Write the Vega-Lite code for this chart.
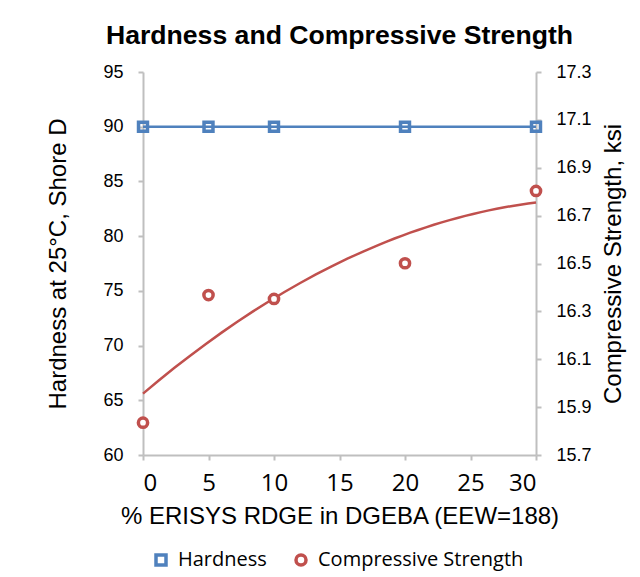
{
  "$schema": "https://vega.github.io/schema/vega-lite/v6.json",
  "width": 393,
  "height": 383,
  "autosize": {"type": "pad"},
  "padding": {"left": 46, "top": 23, "right": 5, "bottom": 5},
  "background": "white",
  "config": {
    "view": {"stroke": null},
    "axis": {
      "grid": false,
      "domainColor": "#BFBFBF",
      "domainWidth": 2,
      "tickColor": "#BFBFBF",
      "tickWidth": 2,
      "tickSize": 5,
      "labelColor": "black",
      "titleColor": "black",
      "titleFontWeight": "normal"
    }
  },
  "title": {
    "text": "Hardness and Compressive Strength",
    "font": "Liberation Sans",
    "fontSize": 26.6,
    "fontWeight": "bold",
    "color": "black",
    "anchor": "middle",
    "offset": 13
  },
  "datasets": {
    "hardness": [
      {"pct": 0, "value": 90, "series": "Hardness"},
      {"pct": 5, "value": 90, "series": "Hardness"},
      {"pct": 10, "value": 90, "series": "Hardness"},
      {"pct": 20, "value": 90, "series": "Hardness"},
      {"pct": 30, "value": 90, "series": "Hardness"}
    ],
    "strength": [
      {"pct": 0, "value": 15.835, "series": "Compressive Strength"},
      {"pct": 5, "value": 16.368, "series": "Compressive Strength"},
      {"pct": 10, "value": 16.352, "series": "Compressive Strength"},
      {"pct": 20, "value": 16.501, "series": "Compressive Strength"},
      {"pct": 30, "value": 16.803, "series": "Compressive Strength"}
    ]
  },
  "layer": [
    {
      "data": {"name": "hardness"},
      "layer": [
        {
          "mark": {"type": "line", "color": "#4F81BD", "strokeWidth": 2.5},
          "encoding": {
            "x": {"field": "pct", "type": "quantitative", "scale": {"domain": [0, 30], "nice": false},
              "axis": {"title": "% ERISYS RDGE in DGEBA (EEW=188)", "values": [0, 5, 10, 15, 20, 25, 30],
                "labelFont": "Open Sans", "labelFontSize": 24, "labelPadding": 11,
                "titleFont": "Liberation Sans", "titleFontSize": 24, "titlePadding": 9}},
            "y": {"field": "value", "type": "quantitative", "scale": {"domain": [60, 95], "nice": false, "zero": false},
              "axis": {"title": "Hardness at 25°C, Shore D", "values": [60, 65, 70, 75, 80, 85, 90, 95],
                "orient": "left", "labelFont": "Liberation Sans", "labelFontSize": 18, "labelPadding": 15,
                "titleFont": "Liberation Sans", "titleFontSize": 24, "titlePadding": 32}}
          }
        },
        {
          "mark": {"type": "point", "filled": false, "strokeWidth": 3.5, "size": 80, "opacity": 1},
          "encoding": {
            "x": {"field": "pct", "type": "quantitative"},
            "y": {"field": "value", "type": "quantitative"},
            "color": {"field": "series", "type": "nominal",
              "scale": {"domain": ["Hardness", "Compressive Strength"], "range": ["#4F81BD", "#C0504D"]},
              "legend": {"title": null, "orient": "none", "direction": "horizontal", "legendX": 8, "legendY": 478,
                "labelFont": "Open Sans", "labelFontSize": 20, "labelColor": "black", "labelLimit": 400,
                "symbolStrokeWidth": 3.5, "symbolSize": 100, "labelOffset": 7, "columnPadding": 22, "padding": 0}},
            "shape": {"field": "series", "type": "nominal",
              "scale": {"domain": ["Hardness", "Compressive Strength"], "range": ["square", "circle"]}}
          }
        }
      ]
    },
    {
      "data": {"name": "strength"},
      "layer": [
        {
          "transform": [{"regression": "value", "on": "pct", "method": "poly", "order": 2, "extent": [0, 30]}],
          "mark": {"type": "line", "color": "#C0504D", "strokeWidth": 2.5},
          "encoding": {
            "x": {"field": "pct", "type": "quantitative"},
            "y": {"field": "value", "type": "quantitative", "scale": {"domain": [15.7, 17.3], "nice": false, "zero": false},
              "axis": {"title": "Compressive Strength, ksi", "orient": "right",
                "values": [15.7, 15.9, 16.1, 16.3, 16.5, 16.7, 16.9, 17.1, 17.3], "format": ".1f",
                "labelFont": "Liberation Sans", "labelFontSize": 18, "labelPadding": 15,
                "titleFont": "Liberation Sans", "titleFontSize": 24, "titlePadding": 10,
                "titleAngle": -90, "titleBaseline": "top"}}
          }
        },
        {
          "mark": {"type": "point", "filled": false, "fill": "white", "strokeWidth": 3.5, "size": 85, "opacity": 1},
          "encoding": {
            "x": {"field": "pct", "type": "quantitative"},
            "y": {"field": "value", "type": "quantitative"},
            "color": {"field": "series", "type": "nominal"},
            "shape": {"field": "series", "type": "nominal"}
          }
        }
      ]
    }
  ],
  "resolve": {"scale": {"y": "independent"}}
}
